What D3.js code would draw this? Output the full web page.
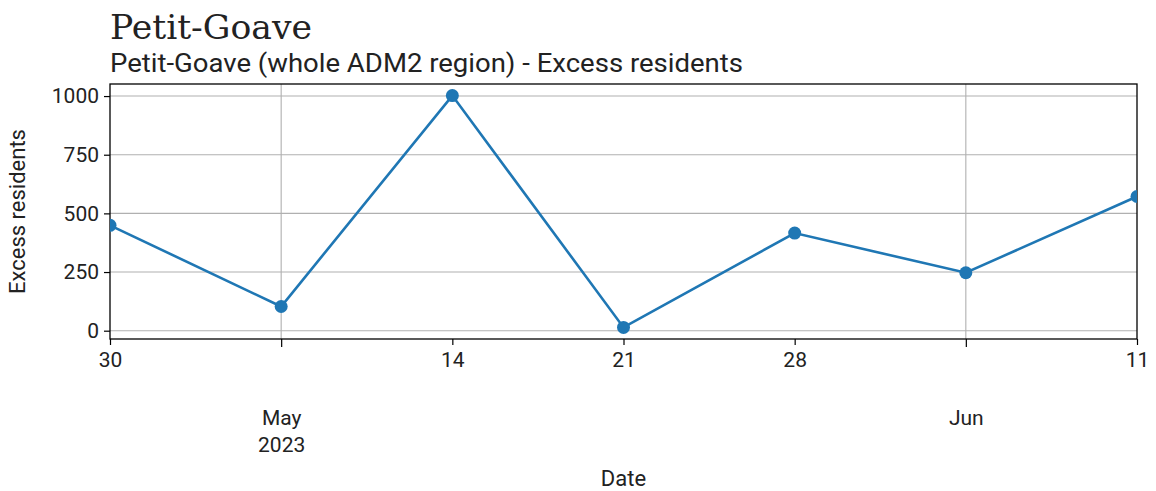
<!DOCTYPE html>
<html>
<head>
<meta charset="utf-8">
<script src="https://cdn.jsdelivr.net/npm/d3@7"></script>
<style>
  body { margin: 0; background: #fff; }
  svg { display: block; }
  text { fill: #222; }
</style>
</head>
<body>
<svg id="chart" width="1156" height="491"></svg>
<script>
const dates = ["2023-04-30", "2023-05-07", "2023-05-14", "2023-05-21", "2023-05-28", "2023-06-04", "2023-06-11"];
const values = [449, 103, 1002, 14, 416, 247, 572];
const xTickLabels = ["30", "May\n2023", "14", "21", "28", "Jun", "11"];
const xTickMajor = [false, true, false, false, false, true, false];
const yTicks = [0, 250, 500, 750, 1000];
const title = "Petit-Goave";
const subtitle = "Petit-Goave (whole ADM2 region) - Excess residents";
const yLabel = "Excess residents";
const xLabel = "Date";

const parse = d3.timeParse("%Y-%m-%d");
const xDates = dates.map(parse);
const data = xDates.map((d, i) => ({ date: d, value: values[i] }));

const svg = d3.select("#chart");
const m = { left: 110, right: 1137, top: 84, bottom: 339 };
const font = "Roboto, 'DejaVu Sans', sans-serif";

const x = d3.scaleTime().domain(d3.extent(xDates)).range([m.left, m.right]);
const vmin = d3.min(values), vmax = d3.max(values), pad = (vmax - vmin) * 0.05;
const y = d3.scaleLinear().domain([vmin - pad, vmax + pad]).range([m.bottom, m.top]);

// grid
const grid = svg.append("g");
grid.selectAll("line.h").data(yTicks).join("line")
  .attr("x1", m.left).attr("x2", m.right)
  .attr("y1", d => y(d)).attr("y2", d => y(d))
  .attr("stroke", "#b0b0b0").attr("stroke-width", 1.1);
grid.selectAll("line.v").data(xDates.filter((d, i) => xTickMajor[i])).join("line")
  .attr("x1", d => x(d)).attr("x2", d => x(d))
  .attr("y1", m.top).attr("y2", m.bottom)
  .attr("stroke", "#b0b0b0").attr("stroke-width", 1.1);

// y axis
const yAxis = svg.append("g").attr("transform", `translate(${m.left},0)`)
  .call(d3.axisLeft(y).tickValues(yTicks).tickSize(6).tickPadding(5).tickFormat(d3.format("d")));
yAxis.select(".domain").remove();
yAxis.selectAll(".tick line").attr("stroke", "#000").attr("stroke-width", 1.2);
yAxis.selectAll(".tick text").attr("font-family", font).attr("font-size", 21).attr("fill", "#222");

// x axis
const xAxis = svg.append("g").attr("transform", `translate(0,${m.bottom})`)
  .call(d3.axisBottom(x).tickValues(xDates).tickSize(7).tickPadding(6)
    .tickFormat((d, i) => xTickMajor[i] ? "" : xTickLabels[i]));
xAxis.select(".domain").remove();
xAxis.selectAll(".tick line").attr("stroke", "#000").attr("stroke-width", 1.2)
  .attr("y2", (d, i) => xTickMajor[i] ? 8 : 6);
xAxis.selectAll(".tick text").attr("font-family", font).attr("font-size", 21).attr("fill", "#222");
xAxis.selectAll(".tick").each(function (d, i) {
  if (!xTickMajor[i]) return;
  const t = d3.select(this).select("text").attr("y", 0).attr("dy", null);
  xTickLabels[i].split("\n").forEach((s, k) => {
    t.append("tspan").attr("x", 0).attr("y", 86 + k * 27).text(s);
  });
});

// spines
svg.append("rect").attr("x", m.left).attr("y", m.top)
  .attr("width", m.right - m.left).attr("height", m.bottom - m.top)
  .attr("fill", "none").attr("stroke", "#000").attr("stroke-width", 1.3);

// line + points
const line = d3.line().x(d => x(d.date)).y(d => y(d.value));
svg.append("clipPath").attr("id", "clip").append("rect")
  .attr("x", m.left).attr("y", m.top).attr("width", m.right - m.left).attr("height", m.bottom - m.top);
const plot = svg.append("g").attr("clip-path", "url(#clip)");
plot.append("path").datum(data).attr("d", line)
  .attr("fill", "none").attr("stroke", "#1f77b4").attr("stroke-width", 2.6);
plot.selectAll("circle").data(data).join("circle")
  .attr("cx", d => x(d.date)).attr("cy", d => y(d.value)).attr("r", 6.5)
  .attr("fill", "#1f77b4");

// titles
svg.append("text").attr("x", 110).attr("y", 39)
  .attr("font-family", "'DejaVu Serif', serif").attr("font-size", 34)
  .attr("textLength", 202).attr("lengthAdjust", "spacingAndGlyphs").text(title);
svg.append("text").attr("x", 110).attr("y", 72)
  .attr("font-family", font).attr("font-size", 25)
  .attr("textLength", 633).attr("lengthAdjust", "spacingAndGlyphs").text(subtitle);

// axis labels
svg.append("text").attr("transform", `translate(25,${(m.top + m.bottom) / 2}) rotate(-90)`)
  .attr("text-anchor", "middle").attr("font-family", font).attr("font-size", 22).text(yLabel);
svg.append("text").attr("x", (m.left + m.right) / 2).attr("y", 486)
  .attr("text-anchor", "middle").attr("font-family", font).attr("font-size", 22).text(xLabel);
</script>
</body>
</html>
